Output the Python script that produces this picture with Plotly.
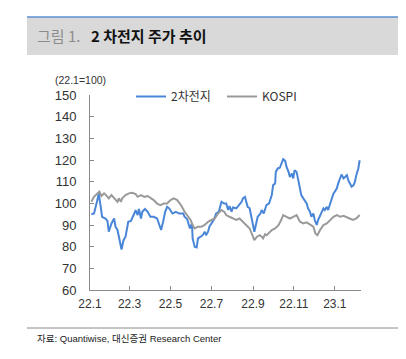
import plotly.graph_objects as go

battery_dates = [
    "2022-01-03","2022-01-07","2022-01-12","2022-01-14","2022-01-17","2022-01-19","2022-01-24","2022-01-27",
    "2022-01-29","2022-02-02","2022-02-06","2022-02-08","2022-02-11","2022-02-13","2022-02-16","2022-02-17",
    "2022-02-20","2022-02-23","2022-02-27","2022-03-03","2022-03-08","2022-03-10","2022-03-13","2022-03-15",
    "2022-03-18","2022-03-20","2022-03-24","2022-03-28","2022-04-01","2022-04-06","2022-04-11","2022-04-14",
    "2022-04-17","2022-04-20","2022-04-23","2022-04-26","2022-04-29","2022-05-04","2022-05-09","2022-05-14",
    "2022-05-20","2022-05-22","2022-05-26","2022-05-30","2022-06-02","2022-06-03","2022-06-06","2022-06-09",
    "2022-06-11","2022-06-15","2022-06-18","2022-06-21","2022-06-23","2022-06-26","2022-06-28","2022-07-01",
    "2022-07-05","2022-07-08","2022-07-12","2022-07-16","2022-07-20","2022-07-23","2022-07-26","2022-07-28",
    "2022-07-31","2022-08-02","2022-08-07","2022-08-11","2022-08-15","2022-08-17","2022-08-20","2022-08-22",
    "2022-08-24","2022-08-27","2022-08-30","2022-09-01","2022-09-03","2022-09-06","2022-09-08","2022-09-12",
    "2022-09-14","2022-09-17","2022-09-21","2022-09-25","2022-09-29","2022-10-01","2022-10-04","2022-10-05",
    "2022-10-08","2022-10-11","2022-10-14","2022-10-16","2022-10-19","2022-10-21","2022-10-24","2022-10-26",
    "2022-10-29","2022-10-31","2022-11-02","2022-11-05","2022-11-08","2022-11-10","2022-11-12","2022-11-15",
    "2022-11-17","2022-11-20","2022-11-22","2022-11-25","2022-11-27","2022-11-30","2022-12-02","2022-12-05",
    "2022-12-07","2022-12-09","2022-12-12","2022-12-15","2022-12-17","2022-12-20","2022-12-22","2022-12-25",
    "2022-12-27","2022-12-30","2023-01-01","2023-01-04","2023-01-06","2023-01-09","2023-01-11","2023-01-14",
    "2023-01-16","2023-01-19","2023-01-21","2023-01-24","2023-01-26","2023-01-29","2023-01-31","2023-02-02",
    "2023-02-05","2023-02-07",
]
battery_values = [
    95.0, 95.3, 101.5, 104.6, 98.4, 93.8, 93.0, 91.9,
    86.9, 90.7, 93.0, 89.2, 87.7, 84.6, 80.7, 78.7,
    83.0, 84.6, 91.5, 91.9, 95.3, 96.9, 94.6, 97.4,
    93.0, 96.1, 97.4, 96.1, 93.8, 93.8, 93.0, 90.0,
    87.7, 91.5, 96.1, 98.4, 97.7, 95.3, 96.1, 95.3,
    95.3, 93.8, 92.6, 88.4, 90.7, 83.8, 80.0, 79.7,
    83.8, 84.6, 85.3, 86.9, 85.3, 86.9, 89.2, 90.7,
    92.6, 95.3, 96.1, 100.7, 99.9, 99.9, 96.9, 98.7,
    96.1, 98.1, 97.7, 99.2, 100.7, 102.3, 103.0, 100.7,
    98.4, 97.7, 93.8, 90.0, 86.9, 90.7, 93.8, 95.3,
    96.9, 95.3, 99.2, 100.0, 103.8, 108.4, 109.2, 114.5,
    116.1, 116.4, 118.4, 120.4, 119.6, 116.8, 114.5, 112.2,
    113.8, 111.5, 115.3, 114.5, 109.9, 106.9, 103.8, 102.3,
    101.5, 100.0, 97.7, 96.1, 93.8, 95.3, 92.3, 90.0,
    92.3, 93.8, 96.1, 97.7, 96.9, 98.4, 96.9, 100.0,
    101.5, 104.6, 105.4, 106.9, 109.2, 111.5, 113.3, 111.5,
    112.2, 113.0, 110.7, 109.2, 107.7, 108.4, 110.0, 113.0,
    116.1, 119.9,
]

kospi_dates = [
    "2022-01-03","2022-01-07","2022-01-12","2022-01-15","2022-01-18","2022-01-22","2022-01-25","2022-01-29",
    "2022-02-02","2022-02-06","2022-02-11","2022-02-13","2022-02-16","2022-02-18","2022-02-23","2022-02-28",
    "2022-03-05","2022-03-10","2022-03-13","2022-03-18","2022-03-23","2022-03-28","2022-04-01","2022-04-06",
    "2022-04-11","2022-04-16","2022-04-21","2022-04-26","2022-05-01","2022-05-06","2022-05-11","2022-05-17",
    "2022-05-22","2022-05-27","2022-05-31","2022-06-03","2022-06-06","2022-06-11","2022-06-16","2022-06-21",
    "2022-06-26","2022-07-01","2022-07-06","2022-07-11","2022-07-16","2022-07-20","2022-07-23","2022-07-28",
    "2022-08-02","2022-08-07","2022-08-12","2022-08-17","2022-08-22","2022-08-27","2022-09-01","2022-09-03",
    "2022-09-07","2022-09-11","2022-09-14","2022-09-16","2022-09-19","2022-09-21","2022-09-24","2022-09-29",
    "2022-10-04","2022-10-09","2022-10-13","2022-10-16","2022-10-21","2022-10-26","2022-10-31","2022-11-05",
    "2022-11-10","2022-11-15","2022-11-20","2022-11-25","2022-11-30","2022-12-03","2022-12-06","2022-12-10",
    "2022-12-15","2022-12-20","2022-12-25","2022-12-30","2023-01-04","2023-01-09","2023-01-14","2023-01-18",
    "2023-01-23","2023-01-28","2023-02-02","2023-02-07",
]
kospi_values = [
    100.7, 103.0, 104.6, 105.4, 103.4, 104.6, 103.8, 102.3,
    103.8, 102.3, 100.7, 102.3, 100.7, 102.3, 103.8, 104.6,
    104.9, 104.3, 103.0, 103.8, 103.0, 103.4, 102.7, 101.5,
    99.9, 99.2, 99.9, 99.9, 101.5, 102.3, 101.5, 99.0,
    96.1, 93.8, 92.3, 90.0, 88.4, 89.2, 89.2, 90.0,
    91.5, 92.3, 93.0, 95.3, 96.9, 96.1, 94.6, 93.8,
    93.0, 92.3, 93.0, 91.5, 90.0, 88.4, 84.6, 83.0,
    84.6, 85.3, 84.6, 83.8, 85.7, 85.3, 86.1, 87.7,
    88.4, 89.9, 92.3, 94.6, 93.8, 93.0, 93.8, 94.6,
    91.5, 90.7, 91.2, 90.0, 89.2, 86.1, 85.3, 87.7,
    90.0, 90.7, 92.3, 93.8, 94.6, 93.8, 94.2, 93.8,
    93.0, 92.3, 93.0, 94.6,
]

series_names = ["2차전지", "KOSPI"]
tick_dates = ["2022-01-01", "2022-03-01", "2022-05-01", "2022-07-01", "2022-09-01", "2022-11-01", "2023-01-01"]
tick_labels = ["22.1", "22.3", "22.5", "22.7", "22.9", "22.11", "23.1"]
y_ticks = [60, 70, 80, 90, 100, 110, 120, 130, 140, 150]

# page body has an 8px margin; work in window pixel coords and compensate
OFF = 8
W, H = 406 - OFF, 359 - OFF
L, R, T, B = 90, 361, 95, 290


def px(x):
    return (x - L) / (R - L)


def py(y):
    return (B - y) / (B - T)


FONT = "Noto Sans CJK KR, Arial, sans-serif"
ARIAL = "Arial, Liberation Sans, sans-serif"
SRC = "Arial, Liberation Sans, Noto Sans CJK KR, sans-serif"

fig = go.Figure()
fig.add_trace(go.Scatter(x=battery_dates, y=battery_values, mode="lines", name=series_names[0],
                         line=dict(color="#4a86d8", width=2)))
fig.add_trace(go.Scatter(x=kospi_dates, y=kospi_values, mode="lines", name=series_names[1],
                         line=dict(color="#9a9a9a", width=2)))

fig.update_layout(
    width=W, height=H,
    margin=dict(l=L - OFF, r=406 - R, t=T - OFF, b=359 - B, pad=0, autoexpand=False),
    paper_bgcolor="white", plot_bgcolor="white",
    font=dict(family=FONT, size=12, color="#333333"),
    showlegend=True,
    legend=dict(orientation="h", x=px(131), y=py(82), xanchor="left", yanchor="top",
                font=dict(family=FONT, size=12, color="#333333"), bgcolor="rgba(0,0,0,0)",
                tracegroupgap=0, entrywidth=46),
    xaxis=dict(type="date", range=["2022-01-01", "2023-02-09"], tickvals=tick_dates, ticktext=tick_labels,
               showline=True, linecolor="#8a8a8a", linewidth=1, ticks="inside", ticklen=4,
               tickcolor="#8a8a8a", showgrid=False, zeroline=False, automargin=False,
               ticklabelstandoff=3,
               tickfont=dict(family=ARIAL, size=12, color="#333333")),
    yaxis=dict(range=[60, 150], tickvals=y_ticks, showline=True, linecolor="#8a8a8a", linewidth=1,
               ticks="inside", ticklen=4, tickcolor="#8a8a8a", showgrid=False, zeroline=False,
               ticklabelstandoff=10, automargin=False,
               tickfont=dict(family=ARIAL, size=13, color="#333333")),
    shapes=[
        dict(type="rect", xref="paper", yref="paper", x0=px(27), x1=px(401), y0=py(55), y1=py(17),
             fillcolor="#d9d9d9", line=dict(width=0), layer="below"),
        dict(type="line", xref="paper", yref="paper", x0=px(27), x1=px(401), y0=py(17), y1=py(17),
             line=dict(color="#5b8fd0", width=1.5)),
        dict(type="line", xref="paper", yref="paper", x0=px(27), x1=px(401), y0=py(328), y1=py(328),
             line=dict(color="#8a8a8a", width=1)),
    ],
    annotations=[
        dict(text="그림 1.", xref="paper", yref="paper", x=px(35), y=py(36), xanchor="left", yanchor="middle",
             showarrow=False, font=dict(family=FONT, size=15, color="#8c8c8c")),
        dict(text="<b>2 차전지 주가 추이</b>", xref="paper", yref="paper", x=px(89), y=py(36), xanchor="left",
             yanchor="middle", showarrow=False, font=dict(family=FONT, size=15, color="#111111")),
        dict(text="(22.1=100)", xref="paper", yref="paper", x=px(53), y=py(80), xanchor="left",
             yanchor="middle", showarrow=False, font=dict(family=ARIAL, size=10.5, color="#333333")),
        dict(text="자료: Quantiwise, 대신증권 Research Center", xref="paper", yref="paper", x=px(35), y=py(338),
             xanchor="left", yanchor="middle", showarrow=False,
             font=dict(family=SRC, size=9.5, color="#222222")),
    ],
)

fig.write_html("out.html")
